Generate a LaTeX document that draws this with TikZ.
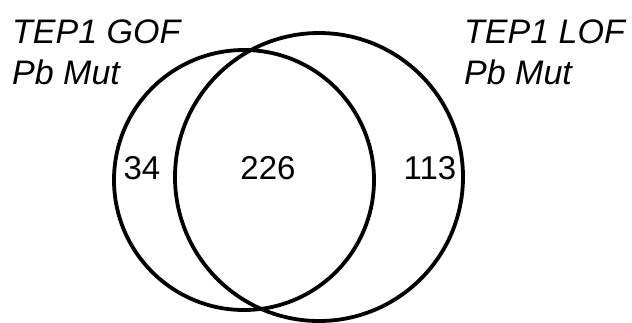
\documentclass[tikz,border=0pt]{standalone}
\usepackage{fontspec}
\setmainfont{Liberation Sans}
\begin{document}
\begin{tikzpicture}[x=1pt,y=-1pt,
  setcircle/.style={draw=black,line width=3.8pt,circle,minimum size=#1,inner sep=0pt},
  setname/.style={anchor=base west,inner sep=0pt,font=\fontsize{34}{40}\selectfont\itshape},
  count/.style={anchor=base,inner sep=0pt,font=\fontsize{33}{38}\selectfont}]
  \useasboundingbox (0,0) rectangle (632,322);
  % the two sets
  \node[setcircle=260pt] (gof) at (244,180) {};
  \node[setcircle=288pt] (lof) at (319,177) {};
  % set names
  \node[setname] (gofA) at (12,43) {TEP1 GOF};
  \node[setname] (gofB) at (12,84) {Pb Mut};
  \node[setname] (lofA) at (464,43) {TEP1 LOF};
  \node[setname] (lofB) at (464,84) {Pb Mut};
  % counts per region
  \node[count] (onlyG) at (142,179) {34};
  \node[count] (both) at (268,179) {226};
  \node[count] (onlyL) at (430,179) {113};
\end{tikzpicture}
\end{document}
